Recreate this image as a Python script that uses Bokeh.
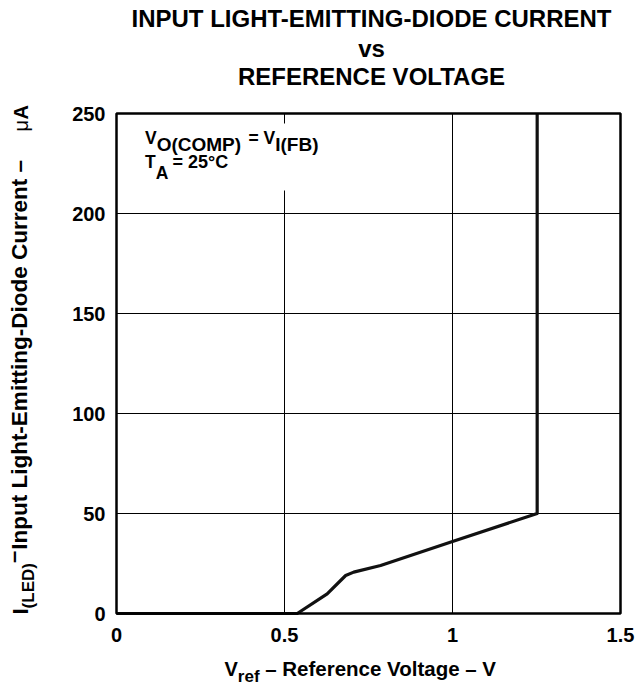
import math
from bokeh.plotting import figure
from bokeh.models import Range1d, FixedTicker, Label, BoxAnnotation, LinearAxis
from bokeh.embed import file_html
from bokeh.resources import INLINE

# ---------------- data ----------------
vref = [0.0, 0.538, 0.627, 0.682, 0.706, 0.786, 1.0, 1.252, 1.252]
i_led = [0.0, 0.0, 9.8, 19.0, 20.7, 24.0, 36.0, 50.0, 250.0]

x_ticks = [0, 0.5, 1, 1.5]
x_tick_labels = ["0", "0.5", "1", "1.5"]
y_ticks = [0, 50, 100, 150, 200, 250]
y_tick_labels = ["0", "50", "100", "150", "200", "250"]
x_grid = [0.5, 1.0]
y_grid = [50, 100, 150, 200]

title_lines = ["INPUT LIGHT-EMITTING-DIODE CURRENT", "vs", "REFERENCE VOLTAGE"]

# ---------------- layout (canvas pixels) ----------------
W, H = 641, 685
BOX_L, BOX_T, BOX_W, BOX_H = 116, 113, 504, 500
XMAX, YMAX = x_ticks[-1], y_ticks[-1]
FONT = "Liberation Sans"
BASE_SHIFT = 0.38  # correction of Bokeh's alphabetic-baseline placement (in em)

# Arial / Liberation Sans Bold advance widths (per 1000 em)
AW = {" ": 278, "(": 333, ")": 333, "-": 333, "=": 584, ".": 278, "°": 400,
      "–": 556, "μ": 576}
for ch in "0123456789":
    AW[ch] = 556
AW.update({"A": 722, "B": 722, "C": 722, "D": 722, "E": 667, "F": 611, "G": 778,
           "H": 722, "I": 278, "L": 611, "M": 833, "N": 722, "O": 778, "P": 667,
           "R": 722, "T": 611, "U": 722, "V": 667,
           "a": 556, "c": 556, "d": 611, "e": 556, "f": 333, "g": 611, "h": 611,
           "i": 278, "l": 278, "m": 889, "n": 611, "o": 611, "p": 611, "r": 389,
           "s": 556, "t": 333, "u": 611, "v": 556})


def tw(s, size):
    return sum(AW.get(c, 556) for c in s) * size / 1000.0


def dx(cx):
    return (cx - BOX_L) / BOX_W * XMAX


def dy(cy):
    return (BOX_T + BOX_H - cy) / BOX_H * YMAX


p = figure(width=W, height=H, output_backend="svg", toolbar_location=None,
           x_range=Range1d(dx(0), dx(W)), y_range=Range1d(dy(H), dy(0)),
           x_axis_location=None, y_axis_location=None,
           min_border=0, min_border_left=0, min_border_right=0,
           min_border_top=0, min_border_bottom=0,
           background_fill_color="white", border_fill_color="white")
p.outline_line_color = None
p.grid.visible = False

# axes fixed on the chart box edges
xaxis = LinearAxis(fixed_location=y_ticks[0], ticker=FixedTicker(ticks=x_ticks),
                   major_label_overrides={t: l for t, l in zip(x_ticks, x_tick_labels)},
                   major_label_standoff=8)
yaxis = LinearAxis(fixed_location=x_ticks[0], ticker=FixedTicker(ticks=y_ticks),
                   major_label_overrides={t: l for t, l in zip(y_ticks, y_tick_labels)},
                   major_label_standoff=5)
for ax in (xaxis, yaxis):
    ax.axis_line_color = None
    ax.major_tick_line_color = None
    ax.minor_tick_line_color = None
    ax.major_label_text_font = FONT
    ax.major_label_text_font_style = "bold"
    ax.major_label_text_font_size = "20px"
    ax.major_label_text_color = "black"
p.add_layout(xaxis, "below")
p.add_layout(yaxis, "left")

# grid lines
p.segment(x0=x_grid, y0=[y_ticks[0]] * len(x_grid), x1=x_grid, y1=[y_ticks[-1]] * len(x_grid),
          line_color="black", line_width=1)
p.segment(x0=[x_ticks[0]] * len(y_grid), y0=y_grid, x1=[x_ticks[-1]] * len(y_grid), y1=y_grid,
          line_color="black", line_width=1)

# curve
p.line(vref, i_led, line_color="#111111", line_width=3.2, line_join="round")

# chart box
p.quad(left=[x_ticks[0]], right=[x_ticks[-1]], bottom=[y_ticks[0]], top=[y_ticks[-1]],
       fill_color=None, line_color="black", line_width=2.5)

# white box behind the condition text (interrupts grid line)
p.add_layout(BoxAnnotation(left=dx(135), right=dx(345), top=dy(123), bottom=dy(190),
                           fill_color="white", fill_alpha=1.0, line_alpha=0.0))


def lab(text, cx, cy, size, angle=0.0, align="left", style="bold"):
    """Place text whose baseline start is at canvas pixel (cx, cy)."""
    if angle == 0.0:
        cy = cy - BASE_SHIFT * size
    else:
        cx = cx - BASE_SHIFT * size
    p.add_layout(Label(x=dx(cx), y=dy(cy), text=text, angle=angle,
                       text_font=FONT, text_font_size=f"{size}px",
                       text_font_style=style, text_align=align,
                       text_baseline="alphabetic", text_color="black"))


# title
for line, base in zip(title_lines, [27, 57, 85]):
    lab(line, 371, base, 24, align="center")

# condition annotation
lab("V", 144.5, 144, 17.5)
lab("O(COMP)", 144.5 + tw("V", 17.5), 151.5, 19)
eq_x = 248
lab("= V", eq_x, 144, 17.5)
lab("I(FB)", eq_x + tw("= V", 17.5), 151.5, 19)
lab("T", 144.5, 168, 17.5)
lab("A", 144.5 + tw("T", 17.5), 179, 17.5)
lab("= 25°C", 172, 168, 18)

# x axis label
xs0 = 224
lab("V", xs0, 676, 20)
xs1 = xs0 + tw("V", 20)
lab("ref", xs1, 682, 17)
xs2 = xs1 + tw("ref", 17) + tw(" ", 20)
lab("– Reference Voltage – V", xs2, 676, 20.5)

# y axis label (rotated, reading bottom to top)
R = math.pi / 2
ys = 614
lab("I", 28, ys, 22, angle=R)
ys -= tw("I", 22)
lab("(LED)", 34, ys, 17, angle=R)
ys -= tw("(LED)", 17)
lab("–", 21, ys, 22, angle=R)
ys -= tw("–", 22) + 1
lab("Input Light-Emitting-Diode Current –", 28, ys, 22.5, angle=R)
lab("μ", 28, 131, 20, angle=R, style="normal")
lab("A", 28, 119, 20, angle=R)

open("out.html", "w").write(file_html(p, INLINE))
